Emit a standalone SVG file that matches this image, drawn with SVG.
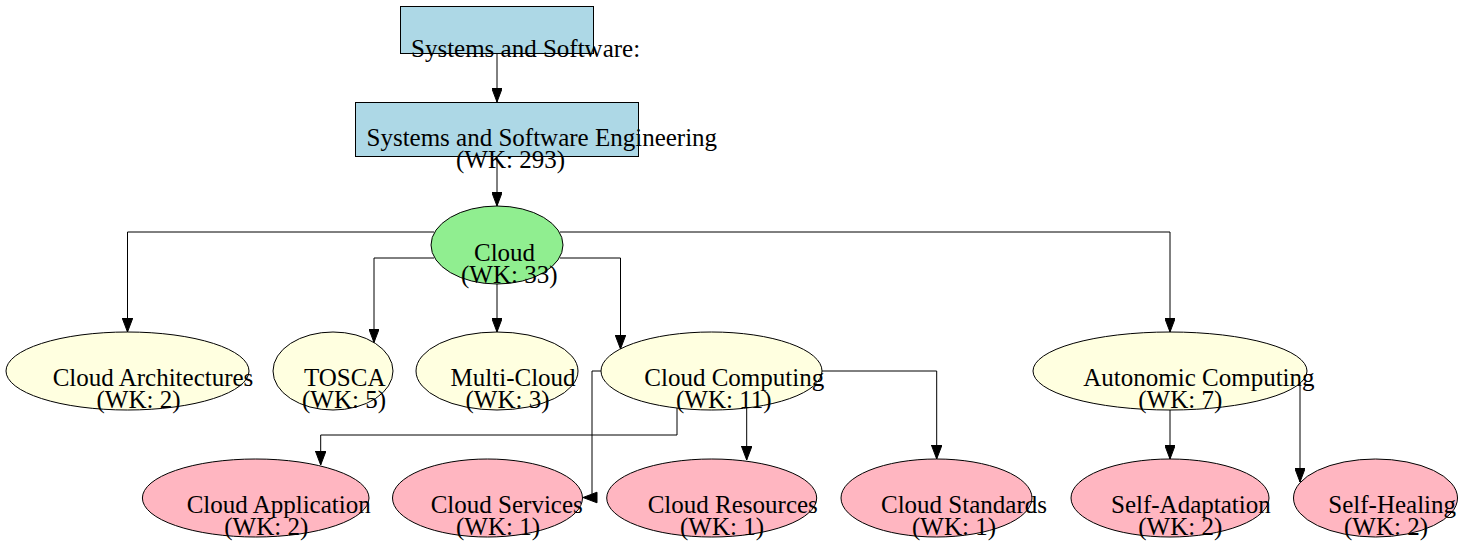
<svg xmlns="http://www.w3.org/2000/svg" width="1463" height="541" viewBox="0 0 1463 541">
<style>
  .box { fill: #ADD8E6; stroke: #000; stroke-width: 1; }
  .root { fill: #90EE90; stroke: #000; stroke-width: 1; }
  .mid { fill: #FFFFE0; stroke: #000; stroke-width: 1; }
  .leaf { fill: #FFB6C1; stroke: #000; stroke-width: 1; }
  text { font-family: "Liberation Serif", "Times New Roman", serif; font-size: 25px; fill: #000; }
  .edge { fill: none; stroke: #000; stroke-width: 1; }
</style>
<defs>
  <marker id="arrow" viewBox="0 0 14 10.6" refX="14" refY="5.3" markerWidth="14" markerHeight="10.6" markerUnits="userSpaceOnUse" orient="auto">
    <polygon points="0,0 14,5.3 0,10.6" fill="#000" stroke="#000" stroke-width="1"/>
  </marker>
</defs>
<rect width="1463" height="541" fill="#fff"/>

<g id="connectors">
  <path class="edge" d="M497,53 V102" marker-end="url(#arrow)"/>
  <path class="edge" d="M497,157 V206" marker-end="url(#arrow)"/>
  <path class="edge" d="M434,232 H127.5 V332" marker-end="url(#arrow)"/>
  <path class="edge" d="M434,258 H374 V342.5" marker-end="url(#arrow)"/>
  <path class="edge" d="M497,284 V332" marker-end="url(#arrow)"/>
  <path class="edge" d="M560,258 H620.5 V349" marker-end="url(#arrow)"/>
  <path class="edge" d="M560,232 H1170 V332" marker-end="url(#arrow)"/>
  <path class="edge" d="M677,408 V435 H320.7 V465" marker-end="url(#arrow)"/>
  <path class="edge" d="M601,371 H592 V497.5"/>
  <polygon points="597,492.2 583,497.5 597,502.8" fill="#000" stroke="#000" stroke-width="1"/>
  <path class="edge" d="M746.7,407 V460" marker-end="url(#arrow)"/>
  <path class="edge" d="M822,371 H936.7 V459" marker-end="url(#arrow)"/>
  <path class="edge" d="M1170,410 V459" marker-end="url(#arrow)"/>
  <path class="edge" d="M1300,383 V482" marker-end="url(#arrow)"/>
</g>

<g id="node-systems-software">
  <rect class="box" x="400.5" y="6.5" width="193" height="47"/>
  <text x="411" y="57">Systems and Software:</text>
</g>

<g id="node-sse">
  <rect class="box" x="355.5" y="102.5" width="283" height="54"/>
  <text x="366.5" y="146">Systems and Software Engineering</text>
  <text x="456" y="168">(WK: 293)</text>
</g>

<g id="node-cloud">
  <ellipse class="root" cx="497" cy="245" rx="66" ry="39"/>
  <text x="474" y="261">Cloud</text>
  <text x="461" y="283">(WK: 33)</text>
</g>

<g id="node-cloud-architectures">
  <ellipse class="mid" cx="127.5" cy="371" rx="121.5" ry="39"/>
  <text x="52.7" y="386">Cloud Architectures</text>
  <text x="96.5" y="408">(WK: 2)</text>
</g>

<g id="node-tosca">
  <ellipse class="mid" cx="333" cy="371" rx="60" ry="39"/>
  <text x="304" y="386">TOSCA</text>
  <text x="302" y="408">(WK: 5)</text>
</g>

<g id="node-multi-cloud">
  <ellipse class="mid" cx="497" cy="371" rx="81" ry="39"/>
  <text x="450.6" y="386">Multi-Cloud</text>
  <text x="465.5" y="408">(WK: 3)</text>
</g>

<g id="node-cloud-computing">
  <ellipse class="mid" cx="711.5" cy="371" rx="110.5" ry="39"/>
  <text x="644.3" y="386">Cloud Computing</text>
  <text x="676" y="408">(WK: 11)</text>
</g>

<g id="node-autonomic-computing">
  <ellipse class="mid" cx="1170" cy="371" rx="137" ry="39"/>
  <text x="1083.3" y="386">Autonomic Computing</text>
  <text x="1138.3" y="408">(WK: 7)</text>
</g>

<g id="node-cloud-application">
  <ellipse class="leaf" cx="255.7" cy="498" rx="113.3" ry="39"/>
  <text x="186.7" y="513">Cloud Application</text>
  <text x="224.3" y="535">(WK: 2)</text>
</g>

<g id="node-cloud-services">
  <ellipse class="leaf" cx="487.5" cy="498" rx="95" ry="39"/>
  <text x="430.7" y="513">Cloud Services</text>
  <text x="456" y="535">(WK: 1)</text>
</g>

<g id="node-cloud-resources">
  <ellipse class="leaf" cx="711.7" cy="498" rx="105" ry="39"/>
  <text x="647.7" y="513">Cloud Resources</text>
  <text x="680" y="535">(WK: 1)</text>
</g>

<g id="node-cloud-standards">
  <ellipse class="leaf" cx="936.5" cy="498" rx="95.5" ry="39"/>
  <text x="881" y="513">Cloud Standards</text>
  <text x="912" y="535">(WK: 1)</text>
</g>

<g id="node-self-adaptation">
  <ellipse class="leaf" cx="1170" cy="498" rx="99" ry="39"/>
  <text x="1111" y="513">Self-Adaptation</text>
  <text x="1138.3" y="535">(WK: 2)</text>
</g>

<g id="node-self-healing">
  <ellipse class="leaf" cx="1375.5" cy="498" rx="82" ry="39"/>
  <text x="1328.3" y="513">Self-Healing</text>
  <text x="1344" y="535">(WK: 2)</text>
</g>
</svg>
